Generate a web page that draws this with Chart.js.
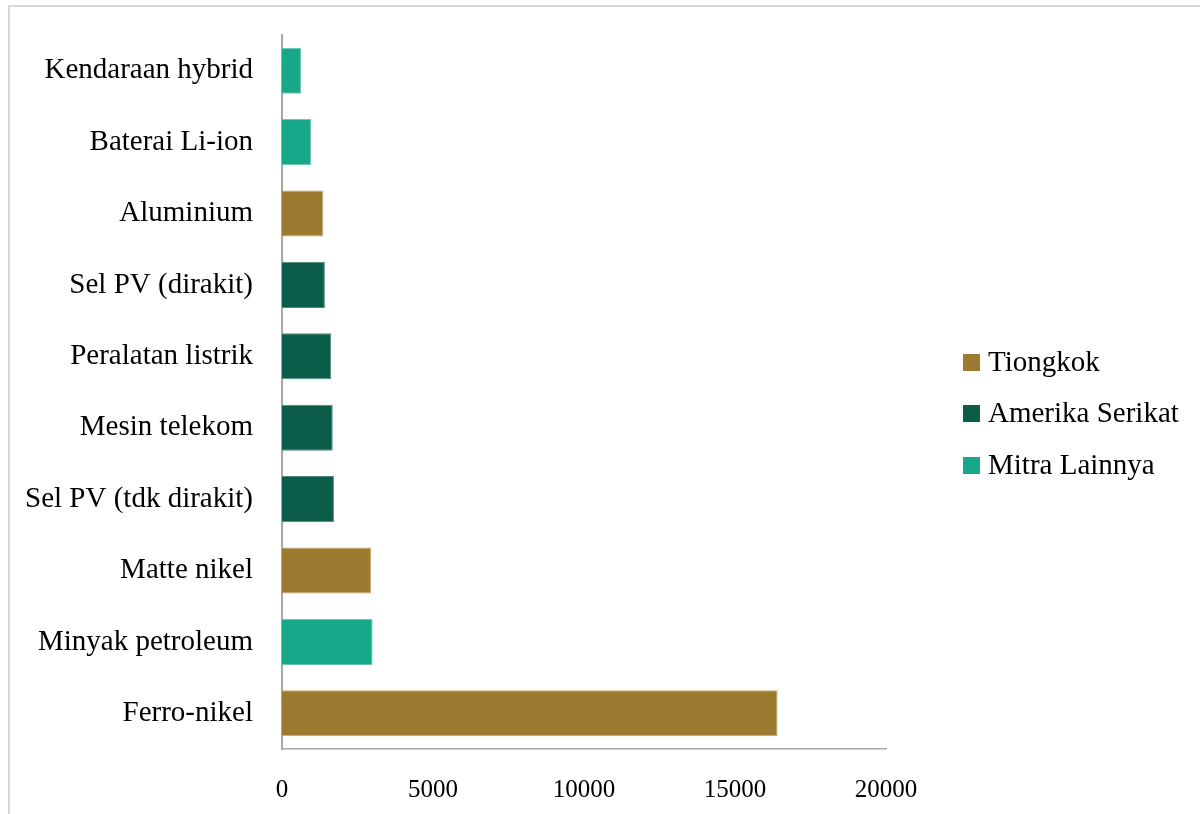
<!DOCTYPE html>
<html>
<head>
<meta charset="utf-8">
<script src="https://cdn.jsdelivr.net/npm/chart.js@4.4.1/dist/chart.umd.min.js"></script>
<style>
  html, body { margin: 0; padding: 0; background: #ffffff; overflow: hidden; width: 1200px; height: 814px; }
  #frame { position: absolute; left: 8px; top: 5px; width: 1400px; height: 1000px; border: 2px solid #d9d9d9; box-sizing: border-box; }
  #c { position: absolute; left: 0; top: 0; }
</style>
</head>
<body>
<div id="frame"></div>
<canvas id="c" width="1200" height="814"></canvas>
<script>
const categories = ['Kendaraan hybrid', 'Baterai Li-ion', 'Aluminium', 'Sel PV (dirakit)', 'Peralatan listrik', 'Mesin telekom', 'Sel PV (tdk dirakit)', 'Matte nikel', 'Minyak petroleum', 'Ferro-nikel'];
const tiongkok = [null, null, 1370, null, null, null, null, 2950, null, 16410];
const amerikaSerikat = [null, null, null, 1420, 1630, 1680, 1720, null, null, null];
const mitraLainnya = [640, 970, null, null, null, null, null, null, 3000, null];
const seriesNames = ['Tiongkok', 'Amerika Serikat', 'Mitra Lainnya'];
const xTicks = [0, 5000, 10000, 15000, 20000];

const colors = ['#9c7b31', '#0c5c4a', '#16a888'];
const edgeColors = ['#c2a86a', '#4d8a7b', '#6cc8b3'];
const FONT = "'Liberation Serif', 'Times New Roman', serif";

const legendPlugin = {
  id: 'customLegend',
  afterDraw(chart) {
    const ctx = chart.ctx;
    ctx.save();
    const ys = [362, 413, 465];
    chart.data.datasets.forEach((ds, i) => {
      ctx.fillStyle = ds.backgroundColor;
      ctx.fillRect(963, ys[i] - 8, 17, 17);
      ctx.fillStyle = '#000000';
      ctx.font = '29px ' + FONT;
      ctx.textBaseline = 'middle';
      ctx.textAlign = 'left';
      ctx.fillText(ds.label, 988, ys[i] + 1);
    });
    ctx.restore();
  }
};

new Chart(document.getElementById('c'), {
  type: 'bar',
  data: {
    labels: categories,
    datasets: [
      { label: seriesNames[0], data: tiongkok, backgroundColor: colors[0], borderColor: edgeColors[0], borderWidth: 1 },
      { label: seriesNames[1], data: amerikaSerikat, backgroundColor: colors[1], borderColor: edgeColors[1], borderWidth: 1 },
      { label: seriesNames[2], data: mitraLainnya, backgroundColor: colors[2], borderColor: edgeColors[2], borderWidth: 1 }
    ]
  },
  options: {
    indexAxis: 'y',
    responsive: false,
    animation: false,
    devicePixelRatio: 1,
    layout: { padding: { top: 35, left: 0, right: 314, bottom: 0 } },
    datasets: { bar: { barPercentage: 0.645, categoryPercentage: 1.0 } },
    plugins: {
      legend: { display: false },
      tooltip: { enabled: false }
    },
    scales: {
      x: {
        stacked: true,
        min: 0,
        max: 20000,
        afterBuildTicks(scale) { scale.ticks = xTicks.map(v => ({ value: v })); },
        afterFit(scale) { scale.height = 65; scale.paddingLeft = 0; scale.paddingRight = 0; },
        grid: { display: false, drawTicks: false },
        border: { display: true, color: '#a6a6a6', width: 1.5 },
        ticks: {
          color: '#000000',
          padding: 26,
          maxRotation: 0,
          font: { family: FONT, size: 25 },
          callback: (v) => String(v)
        }
      },
      y: {
        stacked: true,
        afterFit(scale) { scale.width = 282; scale.paddingTop = 0; scale.paddingBottom = 0; },
        grid: { display: false, drawTicks: false },
        border: { display: true, color: '#a6a6a6', width: 2 },
        ticks: {
          color: '#000000',
          padding: 29,
          font: { family: FONT, size: 29 }
        }
      }
    }
  },
  plugins: [legendPlugin]
});
</script>
</body>
</html>
